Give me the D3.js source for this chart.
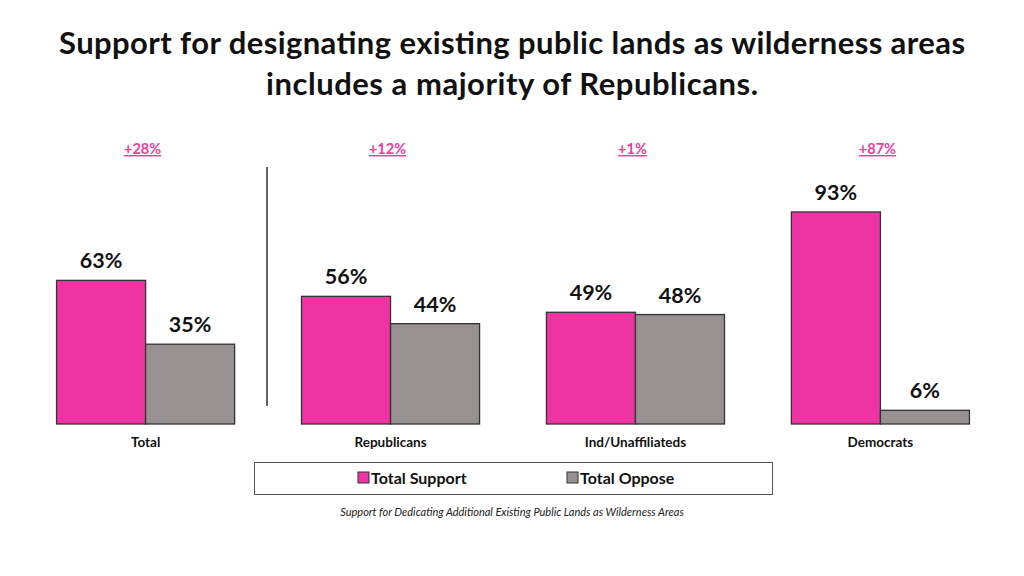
<!DOCTYPE html>
<html><head><meta charset="utf-8">
<script src="https://cdn.jsdelivr.net/npm/d3@7"></script>
<style>body{margin:0;background:#fff}svg{display:block}</style>
</head><body>
<script>
const categories = ["Total","Republicans","Ind/Unaffiliateds","Democrats"];
const series = ["Total Support","Total Oppose"];
const support = [63,56,49,93];
const oppose = [35,44,48,6];
const diffs = ["+28%","+12%","+1%","+87%"];
const colors = ["#EE34A2","#979191"];

const W=1024,H=576;
const svg=d3.select("body").append("svg").attr("width",W).attr("height",H);
const font="Lato, 'Open Sans', sans-serif";

svg.append("text").attr("x",512).attr("y",54).attr("text-anchor","middle")
  .attr("font-family",font).attr("font-weight","bold").attr("font-size",31).attr("fill","#111")
  .attr("textLength",906).attr("lengthAdjust","spacing")
  .text("Support for designating existing public lands as wilderness areas");
svg.append("text").attr("x",512).attr("y",95).attr("text-anchor","middle")
  .attr("font-family",font).attr("font-weight","bold").attr("font-size",31).attr("fill","#111")
  .attr("textLength",492).attr("lengthAdjust","spacing")
  .text("includes a majority of Republicans.");

const x0=d3.scaleBand().domain(categories).range([23,1003]).paddingInner(0.273).paddingOuter(0.137);
const x1=d3.scaleBand().domain(series).range([0,x0.bandwidth()]);
const y=d3.scaleLinear().domain([0,100]).range([424,196]);

const data=categories.map((c,i)=>({c,vals:[support[i],oppose[i]],diff:diffs[i]}));

const g=svg.append("g");
const grp=g.selectAll("g.grp").data(data).join("g").attr("transform",d=>`translate(${x0(d.c)},0)`);
grp.selectAll("rect").data(d=>d.vals.map((v,j)=>({s:series[j],v,j}))).join("rect")
  .attr("x",d=>x1(d.s)).attr("y",d=>y(d.v)).attr("width",x1.bandwidth()).attr("height",d=>y(0)-y(d.v))
  .attr("fill",d=>colors[d.j]).attr("stroke","#333").attr("stroke-width",1.3);
grp.selectAll("text.val").data(d=>d.vals.map((v,j)=>({s:series[j],v,j}))).join("text").attr("class","val")
  .attr("x",d=>x1(d.s)+x1.bandwidth()/2).attr("y",d=>y(d.v)-12).attr("text-anchor","middle")
  .attr("font-family",font).attr("font-weight","bold").attr("font-size",21.5).attr("fill","#111")
  .text(d=>d.v+"%");

// category axis labels
const ax=svg.append("g").attr("transform","translate(0,424)").call(d3.axisBottom(x0).tickSize(0).tickPadding(13));
ax.select(".domain").remove();
ax.selectAll("text").attr("font-family",font).attr("font-weight","bold").attr("font-size",13.5).attr("fill","#111");

// diff labels
const dl=svg.selectAll("g.diff").data(data).join("g").attr("class","diff");
dl.append("text").attr("x",d=>x0(d.c)+x0.bandwidth()/2-3).attr("y",154).attr("text-anchor","middle")
  .attr("font-family",font).attr("font-weight","bold").attr("font-size",14.5).attr("fill","#E8409E")
  .attr("text-decoration","underline").text(d=>d.diff);

// separator
svg.append("line").attr("x1",267).attr("x2",267).attr("y1",167).attr("y2",406).attr("stroke","#666").attr("stroke-width",2);

// legend
svg.append("rect").attr("x",254.5).attr("y",462.5).attr("width",518).attr("height",32).attr("fill","#fff").attr("stroke","#555").attr("stroke-width",1);
const lx=[358,567];
const lg=svg.selectAll("g.leg").data(series).join("g").attr("class","leg").attr("transform",(d,i)=>`translate(${lx[i]},472)`);
lg.append("rect").attr("width",11).attr("height",11).attr("fill",(d,i)=>colors[i]).attr("stroke","#333").attr("stroke-width",1);
lg.append("text").attr("x",13).attr("y",11.5).attr("font-family",font).attr("font-weight","bold").attr("font-size",16).attr("fill","#111").text(d=>d);

svg.append("text").attr("x",512).attr("y",516).attr("text-anchor","middle").attr("font-family",font)
  .attr("font-style","italic").attr("font-size",11).attr("fill","#222")
  .text("Support for Dedicating Additional Existing Public Lands as Wilderness Areas");
</script>
</body></html>
